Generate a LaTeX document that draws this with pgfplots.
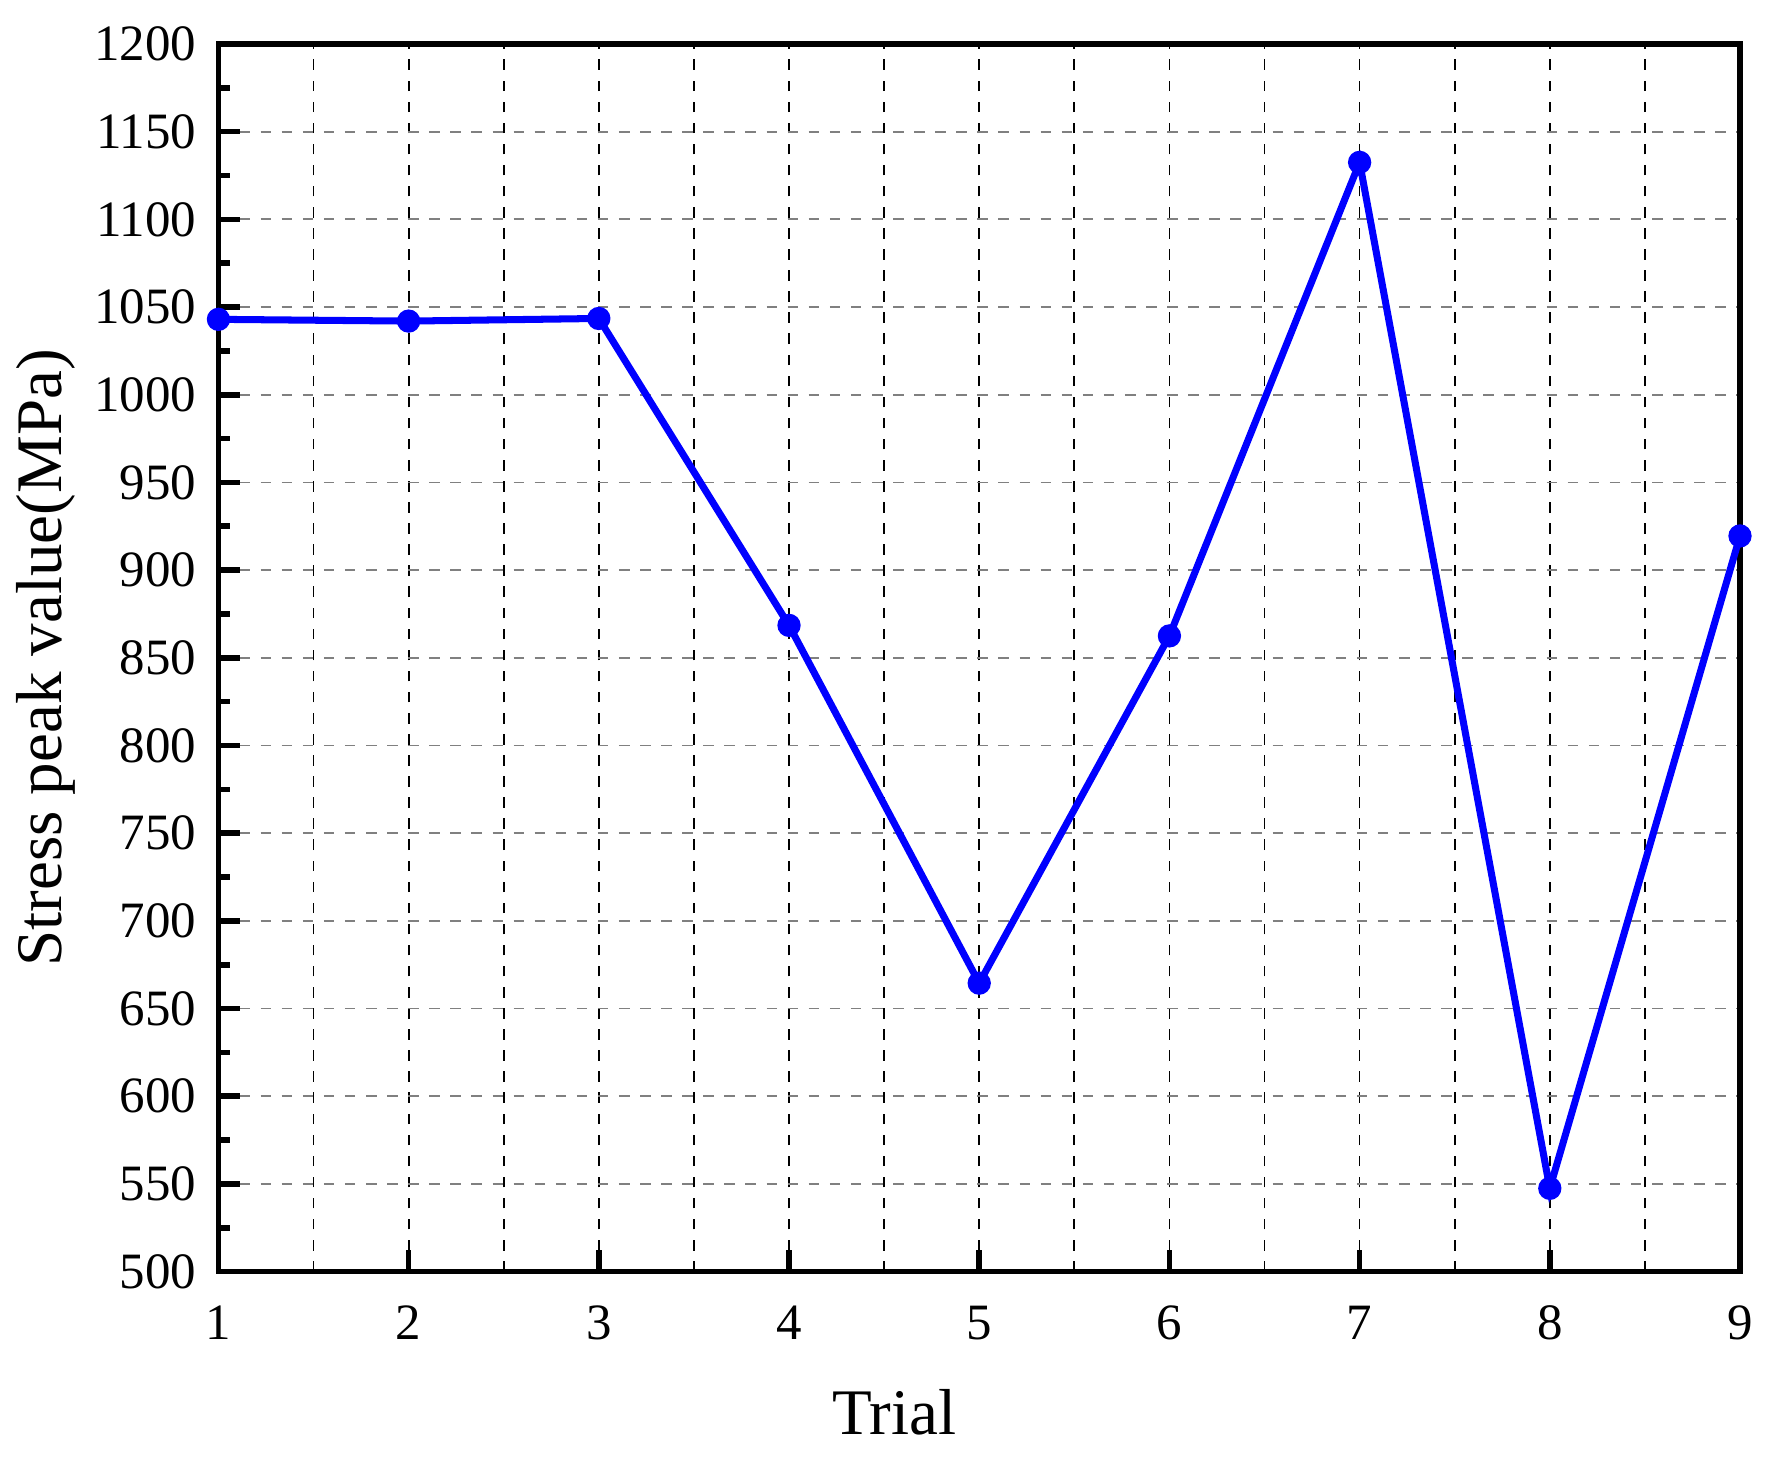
\documentclass[border=0pt]{standalone}
\usepackage{fontspec}
\setmainfont{Liberation Serif}
\usepackage{pgfplots}
\pgfplotsset{compat=1.18}

\begin{document}
\begin{tikzpicture}
\begin{axis}[scale only axis, width=15.22cm, height=12.28cm,
  xmin=1, xmax=9, ymin=500, ymax=1200,
  xtick={1,...,9}, ytick={500,550,...,1200},
  minor xtick={1.5,2.5,...,8.5}, minor y tick num=1,
  tick align=inside, xtick pos=bottom, ytick pos=left,
  major tick length=0.22cm, minor tick length=0.12cm,
  minor x tick style={draw=none},
  tick style={black, line width=1.6pt},
  axis line style={line width=1.6pt},
  xmajorgrids, xminorgrids, ymajorgrids,
  major x grid style={black, dashed, line width=0.5pt},
  minor x grid style={black, dashed, line width=0.5pt},
  major y grid style={gray, dashed, line width=0.5pt},
  /pgf/number format/assume math mode=true,
  /pgf/number format/set thousands separator={},
  tick label style={font=\fontsize{14.5}{16}\selectfont},
  xticklabel style={yshift=-0.22cm},
  yticklabel style={xshift=-0.1cm},
  xlabel={Trial}, ylabel={Stress peak value(MPa)},
  label style={font=\fontsize{18.5}{22}\selectfont},
  xlabel style={yshift=-0.25cm, xshift=-0.85cm},
  ylabel style={yshift=-0.05cm},
  clip=false]
\addplot[blue, line width=2pt, mark=*, mark size=2.3pt] coordinates
  {(1,1043) (2,1042) (3,1043.5) (4,868.5) (5,664.5)
   (6,862.5) (7,1132.5) (8,547.5) (9,919.5)};
\end{axis}
\pgfresetboundingbox
\path[use as bounding box] (-2.185cm,-1.86cm) rectangle (15.57cm,12.72cm);
\end{tikzpicture}
\end{document}
